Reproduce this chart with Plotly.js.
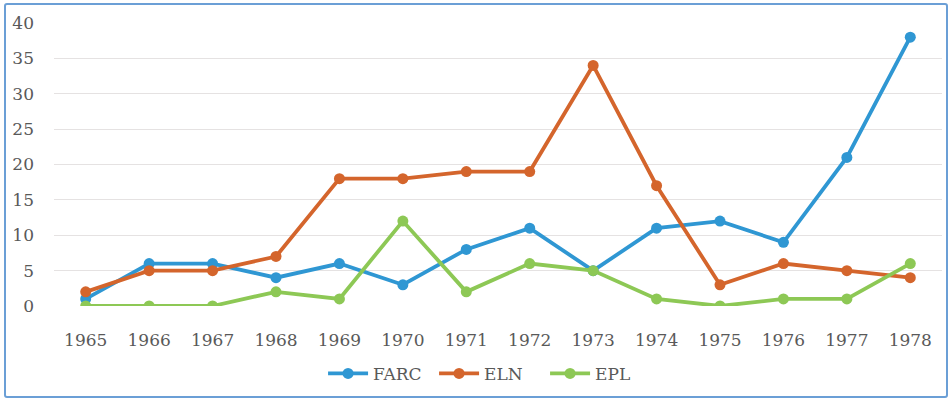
<!DOCTYPE html>
<html><head><meta charset="utf-8">
<script src="https://cdn.plot.ly/plotly-3.0.1.min.js"></script>
<style>
html,body{margin:0;padding:0;background:#fff;}
#wrap{position:relative;width:951px;height:401px;}
#chart{width:951px;height:401px;}
#frame{position:absolute;left:4px;top:3px;width:940px;height:391px;border:2px solid #6b9fd6;border-radius:3px;pointer-events:none;}
</style></head>
<body>
<div id="wrap"><div id="chart"></div><div id="frame"></div></div>
<script>
const years = ['1965','1966','1967','1968','1969','1970','1971','1972','1973','1974','1975','1976','1977','1978'];
const farc = [1, 6, 6, 4, 6, 3, 8, 11, 5, 11, 12, 9, 21, 38];
const eln  = [2, 5, 5, 7, 18, 18, 19, 19, 34, 17, 3, 6, 5, 4];
const epl  = [0, 0, 0, 2, 1, 12, 2, 6, 5, 1, 0, 1, 1, 6];
const yTicks = [0, 5, 10, 15, 20, 25, 30, 35, 40];

const font = "'DejaVu Serif', 'Liberation Serif', serif";
function tr(name, y, color){
  return {type:'scatter', mode:'lines+markers', name:name, x:years, y:y,
    line:{color:color, width:3.8}, marker:{color:color, size:11}};
}
const data = [tr('FARC', farc, '#2f97d3'), tr('ELN', eln, '#d4652c'), tr('EPL', epl, '#8dc855')];
const layout = {
  width:951, height:401,
  margin:{l:54, r:9, t:23, b:93},
  paper_bgcolor:'#fff', plot_bgcolor:'#fff',
  font:{family:font, color:'#595959', size:17},
  xaxis:{type:'category', range:[-0.5,13.5], showgrid:false, zeroline:false, showline:false,
    ticks:'', ticklabelstandoff:22, tickfont:{size:17, family:font, color:'#595959'}},
  yaxis:{range:[0,40], tickvals:yTicks, showgrid:true, gridcolor:'#e5e2e2', gridwidth:1.2,
    zeroline:false, showline:false, ticks:'', ticklabelstandoff:19,
    tickfont:{size:17, family:font, color:'#595959'}},
  showlegend:true,
  legend:{orientation:'h', x:0.303, xanchor:'left', y:-0.24, yanchor:'middle',
    font:{size:17, family:font, color:'#595959'}, entrywidth:56, entrywidthmode:'pixels',
    itemwidth:40, traceorder:'normal'}
};
Plotly.newPlot('chart', data, layout, {displayModeBar:false, staticPlot:true});
</script>
</body></html>
